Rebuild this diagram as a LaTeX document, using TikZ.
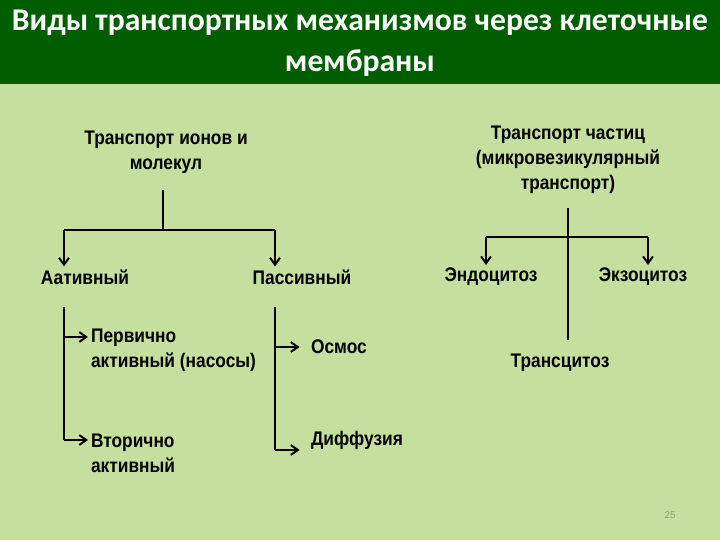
\documentclass[tikz,border=0pt]{standalone}
\usepackage{fontspec}
\setmainfont{Liberation Sans}
\newfontfamily\narrowfont[FakeStretch=0.88]{Liberation Sans}
\newfontfamily\titlefont{Carlito}
\usepackage{xcolor}
\usetikzlibrary{positioning, arrows.meta, calc}

\definecolor{bandgreen}{RGB}{0,94,0}
\definecolor{bodygreen}{RGB}{197,224,158}
\definecolor{pagenum}{RGB}{140,160,120}

\begin{document}
\begin{tikzpicture}[x=0.025cm, y=-0.025cm]
			\tikzset{
				term/.style={font=\narrowfont\bfseries\fontsize{14}{17.8}\selectfont, align=center, inner sep=2pt},
				leaf/.style={term, align=left, anchor=west},
				line/.style={line width=1.4pt, black},
				arr/.style={line, -{Straight Barb[length=5pt, width=7pt, line width=1.4pt]}},
			}
			\useasboundingbox (0,0) rectangle (720,540);
			
			% Background and title band
			\fill[bodygreen] (0,0) rectangle (720,540);
			\fill[bandgreen] (0,0) rectangle (720,84);
			\node[font=\titlefont\bfseries\fontsize{22.5}{29.5}\selectfont, text=white, align=center] (title) at (360,43) {Виды транспортных механизмов через клеточные\\мембраны};
			
			% Ions and molecules (left tree)
			\node[term] (ions) at (166,152) {Транспорт ионов и\\молекул};
			\coordinate (jL) at (163,230);
			\coordinate (cA) at (64,230);
			\coordinate (cP) at (275,230);
			\node[term] (act) at (85,277) {Аативный};
			\node[term] (pas) at (302,277) {Пассивный};
			\draw[line] ([yshift=-10pt]ions.south -| jL) -- (jL);
			\draw[line] (cA) -- (cP);
			\draw[arr] (cA) -- (cA |- act.north);
			\draw[arr] (cP) -- (cP |- pas.north);
			
			% Active transport branch
			\coordinate (tA) at (64,307);
			\coordinate (tP1) at (64,337);
			\coordinate (tP2) at (64,440);
			\node[leaf] (prim) at (88,350) {Первично\\активный (насосы)};
			\node[leaf] (sec) at (88,453) {Вторично\\активный};
			\draw[line] (tA) -- (tP2);
			\draw[arr] (tP1) -- (prim.west |- tP1);
			\draw[arr] (tP2) -- (sec.west |- tP2);
			
			% Passive transport branch
			\coordinate (tB) at (275,307);
			\coordinate (tO) at (275,347);
			\coordinate (tD) at (275,450);
			\node[leaf] (osm) at (308,347) {Осмос};
			\node[leaf] (dif) at (308,440) {Диффузия};
			\draw[line] (tB) -- (tD);
			\draw[arr] (tO) -- ([xshift=-6pt]osm.west |- tO);
			\draw[arr] (tD) -- ([xshift=-6pt]dif.west |- tD);
			
			% Particles (right tree)
			\node[term] (part) at (568,160) {Транспорт частиц\\(микровезикулярный\\транспорт)};
			\coordinate (jR) at (568,237);
			\coordinate (cE) at (486,237);
			\coordinate (cX) at (648,237);
			\coordinate (bR) at (568,340);
			\node[term] (endo) at (491,277) {Эндоцитоз};
			\node[term] (exo) at (643,277) {Экзоцитоз};
			\node[term] (trans) at (560,363) {Трансцитоз};
			\draw[line] ([yshift=-8pt]part.south -| jR) -- (bR);
			\draw[line] (cE) -- (cX);
			\draw[arr] (cE) -- (cE |- endo.north);
			\draw[arr] (cX) -- (cX |- exo.north);
			
			% Page number
			\node[font=\fontsize{7}{8}\selectfont, text=pagenum] (page) at (670,515) {25};
		\end{tikzpicture}
\end{document}
